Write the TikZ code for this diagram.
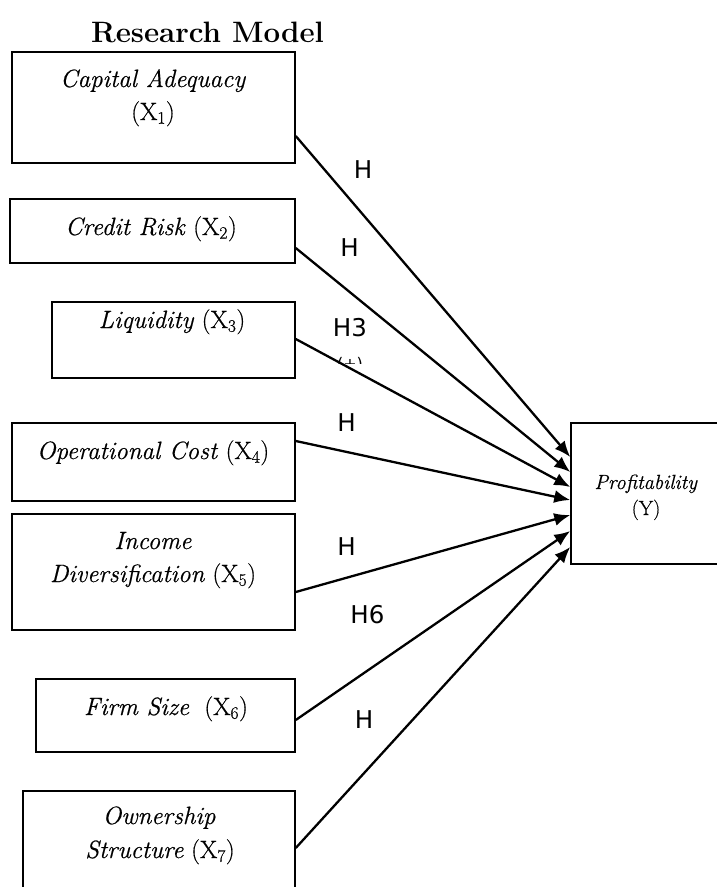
\documentclass[tikz,border=0pt]{standalone}
\usepackage{fontspec}
\newfontfamily\hfont{DejaVu Sans}
\newfontfamily\boxfont{Latin Modern Roman}[FakeBold=0.5]
\usetikzlibrary{arrows.meta}
\tikzset{
  varbox/.style={draw=black, line width=1.5pt, inner sep=0pt},
  boxtext/.style={anchor=base, inner sep=0pt, font=\boxfont\fontsize{25}{29}\selectfont},
  ptext/.style={anchor=base, inner sep=0pt, font=\boxfont\fontsize{20.5}{24}\selectfont},
  hlabel/.style={anchor=base, inner sep=0pt, font=\hfont\fontsize{24.5}{28}\selectfont},
  link/.style={line width=2.3pt, -{Latex[length=16pt,width=13pt]}},
}
\begin{document}
\begin{tikzpicture}[x=1pt,y=-1pt]
\useasboundingbox (0,0) rectangle (717,887);
\clip (0,0) rectangle (717,887);

% title
\node[anchor=base, inner sep=0pt, font=\bfseries\fontsize{29.5}{34}\selectfont] (title) at (207.5,42) {Research Model};

% independent variable boxes
\node[varbox, minimum width=283pt, minimum height=111pt] (b1) at (153.5,107.5) {};
\node[varbox, minimum width=285pt, minimum height=64pt]  (b2) at (152.5,231) {};
\node[varbox, minimum width=243pt, minimum height=76pt]  (b3) at (173.5,340) {};
\node[varbox, minimum width=283pt, minimum height=78pt]  (b4) at (153.5,462) {};
\node[varbox, minimum width=283pt, minimum height=116pt] (b5) at (153.5,572) {};
\node[varbox, minimum width=259pt, minimum height=73pt]  (b6) at (165.5,715.5) {};
\node[varbox, minimum width=272pt, minimum height=114pt] (b7) at (159,848) {};

% dependent variable box
\node[varbox, minimum width=159pt, minimum height=141pt] (P) at (650.5,493.5) {};

% box texts
\node[boxtext] (t1a) at (153,87) {\textit{Capital Adequacy}};
\node[boxtext] (t1b) at (153,120) {(X\textsubscript{1})};
\node[boxtext] (t2) at (151,235) {\textit{Credit Risk} (X\textsubscript{2})};
\node[boxtext] (t3) at (172,328) {\textit{Liquidity} (X\textsubscript{3})};
\node[boxtext] (t4) at (153,459) {\textit{Operational Cost} (X\textsubscript{4})};
\node[boxtext] (t5a) at (153,549) {\textit{Income}};
\node[boxtext] (t5b) at (153,582) {\textit{Diversification} (X\textsubscript{5})};
\node[boxtext] (t6) at (166,715) {\textit{Firm Size}\ \ (X\textsubscript{6})};
\node[boxtext] (t7a) at (159,824) {\textit{Ownership}};
\node[boxtext] (t7b) at (160,858) {\textit{Structure} (X\textsubscript{7})};
\node[ptext] (tp1) at (646,489) {\textit{Profitability}};
\node[ptext] (tp2) at (646,515) {(Y)};

% connectors
\draw[link] ([yshift=-28.5pt]b1.east) -- ([yshift=36.5pt]P.west);
\draw[link] ([yshift=-17pt]b2.east) -- ([yshift=21.5pt]P.west);
\draw[link] ([yshift=1pt]b3.east) -- ([yshift=6.5pt]P.west);
\draw[link] ([yshift=21pt]b4.east) -- ([yshift=-6.5pt]P.west);
\draw[link] ([yshift=-20pt]b5.east) -- ([yshift=-21.5pt]P.west);
\draw[link] ([yshift=-4.5pt]b6.east) -- ([yshift=-37.5pt]P.west);
\draw[link] (b7.east) -- ([yshift=-53.5pt]P.west);

% hypothesis labels
\node[hlabel] (h1) at (363,178) {H};
\node[hlabel] (h2) at (349.5,256) {H};
\node[hlabel] (h3) at (350,336) {H3};
\node[hlabel] (h4) at (346.5,431) {H};
\node[hlabel] (h5) at (346.5,555) {H};
\node[hlabel] (h6) at (367.5,623) {H6};
\node[hlabel] (h7) at (364,728) {H};

% partly hidden sign under H3
\begin{scope}
\clip (330,355) rectangle (372,363.5);
\node[anchor=base, inner sep=0pt, font=\hfont\fontsize{16}{18}\selectfont] (sign) at (350,369) {(+)};
\end{scope}
\end{tikzpicture}
\end{document}
